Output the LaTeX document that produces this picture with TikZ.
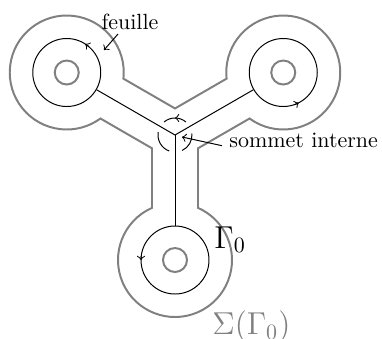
\documentclass[tikz,border=0pt]{standalone}
\usetikzlibrary{calc,decorations.markings}
\begin{document}
\begin{tikzpicture}[x=0.455pt,y=0.455pt,
  outline/.style={draw=gray,line width=0.9pt,line join=miter},
  hole/.style={draw=gray,line width=0.9pt},
  leafc/.style={circle,draw=black,line width=0.45pt,inner sep=0pt,minimum size=30.94pt},
  blk/.style={draw=black,line width=0.45pt},
  midarrow/.style={postaction={decorate},decoration={markings,mark=at position 0.5 with {\arrow{>}}}},
  lbl/.style={inner sep=0pt}]
\useasboundingbox (-175,-203) rectangle (207,135);
% vertex and leaves
\coordinate (V) at (0,0);
\coordinate (L1) at (150:125);
\coordinate (L2) at (30:125);
\coordinate (L3) at (270:125);
% gray outline Sigma(Gamma_0)
\path[outline] (90:26.56)
  -- ($(150:72.85)+(60:23)$) arc[start angle=-6.2,end angle=306.2,radius=57]
  -- (210:26.56)
  -- ($(270:72.85)+(180:23)$) arc[start angle=113.8,end angle=426.2,radius=57]
  -- (330:26.56)
  -- ($(30:72.85)+(-60:23)$) arc[start angle=-126.2,end angle=186.2,radius=57]
  -- cycle;
% holes
\draw[hole] (L1) circle[radius=12];
\draw[hole] (L2) circle[radius=12];
\draw[hole] (L3) circle[radius=12];
% leaf circles
\node[leafc] (c1) at (L1) {};
\node[leafc] (c2) at (L2) {};
\node[leafc] (c3) at (L3) {};
\draw[blk,->] (L1) ++(50:34) arc[start angle=50,end angle=57,radius=34];
\draw[blk,->] (L2) ++(-70:34) arc[start angle=-70,end angle=-63,radius=34];
\draw[blk,->] (L3) ++(173:34) arc[start angle=173,end angle=180,radius=34];
% edges
\draw[blk] (V) -- (c1);
\draw[blk] (V) -- (c2);
\draw[blk] (V) -- (c3);
% arcs around the internal vertex
\draw[blk,midarrow] (V) ++(50:17) arc[start angle=50,end angle=130,radius=17];
\draw[blk] (V) ++(170:17) arc[start angle=170,end angle=250,radius=17];
\draw[blk] (V) ++(295:17) arc[start angle=295,end angle=365,radius=17];
% labels
\node[lbl,anchor=base] (feuille) at (-45,106) {feuille};
\coordinate (fA) at (-57,101);
\coordinate (fB) at (-71,85);
\draw[blk,->] (fA) -- (fB);
\node[lbl,anchor=base west] (sommet) at (54,-12) {sommet interne};
\coordinate (sA) at (47,-10.7);
\coordinate (sB) at (7,-2);
\draw[blk,->] (sA) -- (sB);
\node[lbl,anchor=base west] (gam) at (39,-113) {\Large$\Gamma_0$};
\node[lbl,anchor=base west,text=gray] (sig) at (37,-199.6) {\Large$\Sigma(\Gamma_0)$};
\end{tikzpicture}
\end{document}
